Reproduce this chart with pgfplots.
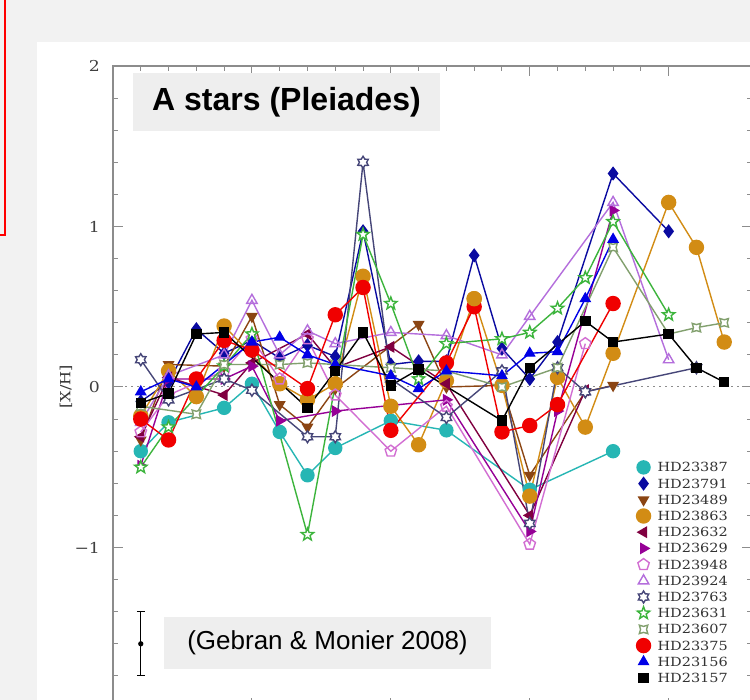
\documentclass[border=0pt]{standalone}
\usepackage{pgfplots}
\pgfplotsset{compat=1.18}
\usetikzlibrary{plotmarks}
\usepackage{fontspec}
\newfontfamily\sansf{Liberation Sans}
\newfontfamily\legfont{DejaVu Serif}[FakeStretch=1.15]

\definecolor{bgc}{RGB}{242,242,242}
\definecolor{boxc}{RGB}{238,238,238}
\definecolor{axc}{RGB}{140,140,140}
\definecolor{cA}{RGB}{38,182,180}
\definecolor{cB}{RGB}{10,10,160}
\definecolor{cC}{RGB}{139,69,19}
\definecolor{cD}{RGB}{210,140,20}
\definecolor{cE}{RGB}{128,0,64}
\definecolor{cF}{RGB}{150,0,150}
\definecolor{cG}{RGB}{210,110,210}
\definecolor{cH}{RGB}{180,110,220}
\definecolor{cI}{RGB}{70,70,120}
\definecolor{cJ}{RGB}{60,180,60}
\definecolor{cK}{RGB}{130,160,110}
\definecolor{cL}{RGB}{240,0,0}
\definecolor{cM}{RGB}{0,0,230}
\definecolor{cN}{RGB}{0,0,0}

\pgfdeclareplotmark{ostarfive}{%
  \pgfpathmoveto{\pgfpointpolar{90}{\pgfplotmarksize}}%
  \pgfpathlineto{\pgfpointpolar{126}{0.42\pgfplotmarksize}}%
  \pgfpathlineto{\pgfpointpolar{162}{\pgfplotmarksize}}%
  \pgfpathlineto{\pgfpointpolar{198}{0.42\pgfplotmarksize}}%
  \pgfpathlineto{\pgfpointpolar{234}{\pgfplotmarksize}}%
  \pgfpathlineto{\pgfpointpolar{270}{0.42\pgfplotmarksize}}%
  \pgfpathlineto{\pgfpointpolar{306}{\pgfplotmarksize}}%
  \pgfpathlineto{\pgfpointpolar{342}{0.42\pgfplotmarksize}}%
  \pgfpathlineto{\pgfpointpolar{18}{\pgfplotmarksize}}%
  \pgfpathlineto{\pgfpointpolar{54}{0.42\pgfplotmarksize}}%
  \pgfpathclose\pgfusepathqfillstroke}
\pgfdeclareplotmark{ostarsix}{%
  \pgfpathmoveto{\pgfpointpolar{90}{\pgfplotmarksize}}%
  \pgfpathlineto{\pgfpointpolar{120}{0.6\pgfplotmarksize}}%
  \pgfpathlineto{\pgfpointpolar{150}{\pgfplotmarksize}}%
  \pgfpathlineto{\pgfpointpolar{180}{0.6\pgfplotmarksize}}%
  \pgfpathlineto{\pgfpointpolar{210}{\pgfplotmarksize}}%
  \pgfpathlineto{\pgfpointpolar{240}{0.6\pgfplotmarksize}}%
  \pgfpathlineto{\pgfpointpolar{270}{\pgfplotmarksize}}%
  \pgfpathlineto{\pgfpointpolar{300}{0.6\pgfplotmarksize}}%
  \pgfpathlineto{\pgfpointpolar{330}{\pgfplotmarksize}}%
  \pgfpathlineto{\pgfpointpolar{0}{0.6\pgfplotmarksize}}%
  \pgfpathlineto{\pgfpointpolar{30}{\pgfplotmarksize}}%
  \pgfpathlineto{\pgfpointpolar{60}{0.6\pgfplotmarksize}}%
  \pgfpathclose\pgfusepathqfillstroke}
\pgfdeclareplotmark{ostarfour}{%
  \pgfpathmoveto{\pgfpointpolar{45}{\pgfplotmarksize}}%
  \pgfpathlineto{\pgfpointpolar{90}{0.5\pgfplotmarksize}}%
  \pgfpathlineto{\pgfpointpolar{135}{\pgfplotmarksize}}%
  \pgfpathlineto{\pgfpointpolar{180}{0.5\pgfplotmarksize}}%
  \pgfpathlineto{\pgfpointpolar{225}{\pgfplotmarksize}}%
  \pgfpathlineto{\pgfpointpolar{270}{0.5\pgfplotmarksize}}%
  \pgfpathlineto{\pgfpointpolar{315}{\pgfplotmarksize}}%
  \pgfpathlineto{\pgfpointpolar{0}{0.5\pgfplotmarksize}}%
  \pgfpathclose\pgfusepathqfillstroke}

\begin{document}
\begin{tikzpicture}[x=0.5pt,y=0.5pt]
\path[use as bounding box] (0,0) rectangle (750,700);
\clip (0,0) rectangle (750,700);
\fill[bgc] (0,0) rectangle (750,700);
\fill[white] (37,0) rectangle (760,658);
\draw[red, line width=1pt] (-10,465) rectangle (5,710);
\begin{axis}[
  at={(56.5pt,-4pt)}, anchor=south west, scale only axis,
  width=319.5pt, height=321pt,
  xmin=0, xmax=23, ymin=-2, ymax=2,
  axis line style={axc, line width=0.6pt},
  tick style={axc, line width=0.5pt},
  tick align=inside,
  major tick length=5pt, minor tick length=2.5pt,
  xtick={0,5,10,15,20}, minor x tick num=4, xticklabels={},
  ytick={-2,-1,0,1,2}, minor y tick num=4,
  yticklabels={,−1,0,1,2},
  yticklabel style={font=\legfont\fontsize{7.5}{7.5}\selectfont, text=black!75, xshift=-3pt},
  ylabel={[X/H]},
  every axis y label/.style={at={(axis description cs:-0.0736,0.5)}, rotate=90, anchor=center, font=\legfont\fontsize{7}{7}\selectfont, text=black!80},
  every axis plot/.append style={line width=0.7pt},
  legend image code/.code={\path[draw=none,fill=none] (-3.5pt,-3.5pt) rectangle (3.5pt,3.5pt); \draw[#1,/tikz/only marks] plot coordinates {(0pt,0pt)};},
  legend cell align=left,
  legend style={at={(axis cs:18.83,-0.448)}, anchor=north west, draw=none, fill=none, inner sep=0pt,
    font=\legfont\fontsize{6.3}{6.3}\selectfont, text=black!80, row sep=0pt, column sep=3pt,
    nodes={inner xsep=0.5pt, inner ysep=0.5pt, text height=5.8pt, text depth=1.3pt}},
]
\addplot[forget plot, axc, line width=0.5pt, dash pattern=on 1pt off 2pt] coordinates {(0,0) (23,0)};

\addplot[cA, mark=*, mark size=3.25pt, mark options={solid, fill=cA}] coordinates {
(1,-0.40)(2,-0.22)(4,-0.13)(5,0.02)(6,-0.28)(7,-0.55)(8,-0.38)(10,-0.21)(12,-0.27)(15,-0.64)(18,-0.40)};
\addlegendentry{HD23387}
\addplot[cB, mark=diamond*, mark size=3pt, mark options={solid, fill=cB}] coordinates {
(1,-0.09)(2,0.03)(3,0.36)(4,0.21)(5,0.29)(6,0.18)(7,0.26)(8,0.19)(9,0.97)(10,0.14)(11,0.16)(12,0.16)(13,0.82)(14,0.24)(15,0.05)(16,0.28)(18,1.33)(20,0.97)};
\addlegendentry{HD23791}
\addplot[cC, mark=triangle*, mark size=2.75pt, mark options={solid, fill=cC, rotate=180}] coordinates {
(1,-0.33)(2,0.14)(4,0.13)(5,0.44)(6,-0.11)(7,-0.25)(8,-0.01)(11,0.39)(12,0.00)(14,0.01)(15,-0.55)(17,-0.03)(18,0.01)};
\addlegendentry{HD23489}
\addplot[cD, mark=*, mark size=3.5pt, mark options={solid, fill=cD}] coordinates {
(1,-0.18)(2,0.10)(3,-0.06)(4,0.38)(6,0.02)(7,-0.08)(8,0.02)(9,0.69)(10,-0.12)(11,-0.36)(12,0.04)(13,0.55)(14,0.01)(15,-0.68)(16,0.06)(17,-0.25)(18,0.21)(20,1.15)(21,0.87)(22,0.28)};
\addlegendentry{HD23863}
\addplot[cE, mark=triangle*, mark size=2.75pt, mark options={solid, fill=cE, rotate=90}] coordinates {
(1,-0.31)(2,0.06)(4,-0.05)(5,0.15)(7,0.33)(8,0.12)(10,0.25)(12,0.02)(15,-0.80)(17,-0.02)};
\addlegendentry{HD23632}
\addplot[cF, mark=triangle*, mark size=2.75pt, mark options={solid, fill=cF, rotate=-90}] coordinates {
(1,-0.49)(2,0.05)(4,0.05)(5,0.13)(6,-0.21)(8,-0.15)(12,-0.08)(15,-0.90)(16,-0.15)(18,1.10)};
\addlegendentry{HD23629}
\addplot[cG, mark=pentagon, mark size=3pt, mark options={solid, fill=white}] coordinates {
(1,-0.28)(2,-0.05)(4,0.10)(5,0.30)(6,0.05)(7,0.30)(8,-0.05)(10,-0.40)(12,-0.12)(15,-0.98)(17,0.27)};
\addlegendentry{HD23948}
\addplot[cH, mark=triangle, mark size=3pt, mark options={solid, fill=white}] coordinates {
(1,-0.22)(2,0.07)(4,0.20)(5,0.54)(6,0.20)(7,0.35)(8,0.27)(10,0.34)(12,0.32)(14,0.20)(15,0.44)(18,1.15)(20,0.17)};
\addlegendentry{HD23924}
\addplot[cI, mark=ostarsix, mark size=3pt, mark options={solid, fill=white}] coordinates {
(1,0.17)(2,-0.08)(4,0.05)(5,-0.02)(7,-0.31)(8,-0.31)(9,1.40)(10,0.05)(12,-0.19)(14,0.10)(15,-0.85)(16,0.12)(17,-0.03)(21,0.12)};
\addlegendentry{HD23763}
\addplot[cJ, mark=ostarfive, mark size=3.25pt, mark options={solid, fill=white}] coordinates {
(1,-0.50)(2,-0.25)(4,0.13)(5,0.33)(7,-0.92)(9,0.95)(10,0.52)(11,0.05)(12,0.27)(14,0.30)(15,0.34)(16,0.49)(17,0.68)(18,1.03)(20,0.45)};
\addlegendentry{HD23631}
\addplot[cK, mark=ostarfour, mark size=3pt, mark options={solid, fill=white}] coordinates {
(1,-0.12)(3,-0.17)(4,0.14)(6,0.14)(7,0.15)(8,0.14)(10,0.12)(12,0.10)(14,0.00)(16,0.12)(18,0.87)(20,0.33)(21,0.37)(22,0.40)};
\addlegendentry{HD23607}
\addplot[cL, mark=*, mark size=3.5pt, mark options={solid, fill=cL}] coordinates {
(1,-0.20)(2,-0.33)(3,0.05)(4,0.29)(5,0.23)(7,-0.01)(8,0.45)(9,0.62)(10,-0.27)(12,0.15)(13,0.50)(14,-0.28)(15,-0.24)(16,-0.11)(18,0.52)};
\addlegendentry{HD23375}
\addplot[cM, mark=triangle*, mark size=2.75pt, mark options={solid, fill=cM}] coordinates {
(1,-0.03)(2,0.05)(3,0.00)(5,0.28)(6,0.31)(7,0.20)(8,0.14)(10,0.07)(11,-0.01)(12,0.10)(14,0.07)(15,0.21)(16,0.22)(17,0.55)(18,0.92)};
\addlegendentry{HD23156}
\addplot[cN, mark=square*, mark size=2.25pt, mark options={solid, fill=cN}] coordinates {
(1,-0.10)(2,-0.04)(3,0.33)(4,0.34)(7,-0.13)(8,0.10)(9,0.34)(10,0.01)(11,0.11)(14,-0.21)(15,0.12)(17,0.41)(18,0.28)(20,0.33)(21,0.12)(22,0.03)};
\addlegendentry{HD23157}

\addplot[forget plot, cD, mark=*, mark size=3.5pt, only marks, mark options={solid, fill=cD}] coordinates {(13,0.55)};

\addplot[forget plot, black, line width=0.6pt, mark=*, mark size=1pt,
  error bars/.cd, y dir=both, y explicit,
  error bar style={line width=0.6pt, black},
  error mark options={rotate=90, mark size=2pt, line width=0.6pt, black}]
  coordinates {(1,-1.6) +- (0,0.2)};
\end{axis}
\node[fill=boxc, minimum width=153.5pt, minimum height=29pt, inner sep=0pt, font=\sansf\bfseries\fontsize{16}{18}\selectfont] at (286.5,598) {A stars (Pleiades)};
\node[fill=boxc, minimum width=163.5pt, minimum height=26pt, inner sep=0pt, font=\sansf\fontsize{13}{15}\selectfont] at (327.5,57) {(Gebran \& Monier 2008)};
\end{tikzpicture}
\end{document}
